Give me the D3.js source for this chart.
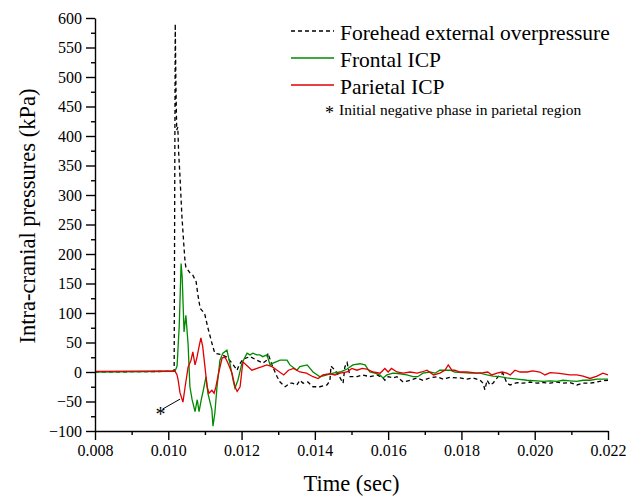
<!DOCTYPE html>
<html>
<head>
<meta charset="utf-8">
<script src="https://cdn.jsdelivr.net/npm/d3@7"></script>
<style>
  body { margin: 0; background: #fff; }
  text { font-family: "Liberation Serif", "DejaVu Serif", serif; fill: #000; }
</style>
</head>
<body>
<svg width="641" height="497"></svg>
<script>
var overTime = [0.0080, 0.0100, 0.01016, 0.01019, 0.01021, 0.01023, 0.01026, 0.01028, 0.01032, 0.01037, 0.01042, 0.01046, 0.01048, 0.01059, 0.01067, 0.01076, 0.01081, 0.01087, 0.01095, 0.01100, 0.01108, 0.01122, 0.01127, 0.01147, 0.01160, 0.01174, 0.01188, 0.01193, 0.01204, 0.01223, 0.01242, 0.01258, 0.01269, 0.01272, 0.01283, 0.01297, 0.01305, 0.01319, 0.01332, 0.01338, 0.01351, 0.01359, 0.01368, 0.01381, 0.01395, 0.01414, 0.01433, 0.01441, 0.01444, 0.01455, 0.01469, 0.01477, 0.01482, 0.01488, 0.01496, 0.01515, 0.01531, 0.01550, 0.01570, 0.01586, 0.01591, 0.01600, 0.01613, 0.01624, 0.01641, 0.01660, 0.01679, 0.01695, 0.01714, 0.01733, 0.01750, 0.01769, 0.01788, 0.01796, 0.01815, 0.01832, 0.01851, 0.01859, 0.01864, 0.01870, 0.01878, 0.01886, 0.01900, 0.01913, 0.01924, 0.01933, 0.01952, 0.01968, 0.01987, 0.02006, 0.02023, 0.02042, 0.02061, 0.02077, 0.02096, 0.02115, 0.02132, 0.02151, 0.02170, 0.02186, 0.02200];
var overKpa = [0, 1, 2, 590, 480, 410, 415, 376, 330, 266, 219, 185, 178, 168, 164, 153, 130, 108, 102, 97, 75, 42, 32, 29, 25, 15, 3, 12, 22, 26, 20, 15, 20, 32, 12, -8, -17, -25, -19, -19, -22, -14, -19, -17, -25, -25, -22, -15, 10, 3, -10, -19, 9, 16, -8, -8, -5, -8, -5, -10, -14, -8, -10, -8, -17, -14, -10, -14, -10, -8, -12, -9, -10, -10, -12, -10, -14, -19, -30, -14, -22, -19, -8, -2, -19, -22, -18, -19, -17, -19, -18, -19, -17, -19, -18, -22, -19, -19, -17, -15, -14];

var frontalTime = [0.0080, 0.01018, 0.01024, 0.01030, 0.01035, 0.01038, 0.01043, 0.01048, 0.01054, 0.01059, 0.01065, 0.01073, 0.01079, 0.01084, 0.01090, 0.01095, 0.01103, 0.01108, 0.01119, 0.01122, 0.01127, 0.01133, 0.01141, 0.01149, 0.01160, 0.01168, 0.01177, 0.01182, 0.01190, 0.01201, 0.01215, 0.01223, 0.01231, 0.01242, 0.01250, 0.01258, 0.01269, 0.01278, 0.01286, 0.01305, 0.01324, 0.01332, 0.01351, 0.01359, 0.01379, 0.01395, 0.01414, 0.01433, 0.01450, 0.01469, 0.01488, 0.01504, 0.01523, 0.01537, 0.01550, 0.01564, 0.01578, 0.01586, 0.01597, 0.01613, 0.01632, 0.01651, 0.01668, 0.01681, 0.01695, 0.01714, 0.01728, 0.01741, 0.01769, 0.01782, 0.01804, 0.01823, 0.01851, 0.01870, 0.01886, 0.01905, 0.01924, 0.01952, 0.01979, 0.02006, 0.02023, 0.02042, 0.02061, 0.02077, 0.02096, 0.02115, 0.02132, 0.02151, 0.02170, 0.02200];
var frontalKpa = [0, 1, 10, 80, 184, 160, 68, 96, 48, -25, -47, -67, -47, -67, -47, -33, -8, -36, -64, -92, -70, -25, 20, 32, 37, 15, -14, -27, -14, 15, 32, 29, 32, 29, 29, 26, 29, 12, 15, 20, 20, 12, 3, 9, 12, 0, -8, -5, -2, 0, 5, 12, 14, 12, 0, -2, -5, -10, -5, -2, -3, -5, -8, -8, -2, 0, -2, 3, 3, 0, -1, -2, -2, -5, -7, -8, -10, -12, -14, -15, -16, -15, -16, -14, -15, -16, -14, -14, -12, -12];

var parietalTime = [0.0080, 0.01018, 0.01024, 0.01027, 0.01032, 0.01040, 0.01046, 0.01054, 0.01062, 0.01067, 0.01073, 0.01078, 0.01084, 0.01089, 0.01094, 0.01100, 0.01106, 0.01111, 0.01119, 0.01125, 0.01130, 0.01138, 0.01147, 0.01155, 0.01163, 0.01174, 0.01182, 0.01188, 0.01196, 0.01201, 0.01204, 0.01218, 0.01228, 0.01242, 0.01256, 0.01269, 0.01283, 0.01297, 0.01315, 0.01328, 0.01342, 0.01359, 0.01377, 0.01395, 0.01409, 0.01422, 0.01441, 0.01455, 0.01469, 0.01488, 0.01501, 0.01515, 0.01529, 0.01542, 0.01559, 0.01578, 0.01591, 0.01600, 0.01609, 0.01624, 0.01641, 0.01660, 0.01679, 0.01692, 0.01706, 0.01724, 0.01741, 0.01755, 0.01764, 0.01774, 0.01782, 0.01796, 0.01815, 0.01832, 0.01842, 0.01859, 0.01872, 0.01883, 0.01897, 0.01911, 0.01924, 0.01933, 0.01946, 0.01960, 0.01979, 0.01995, 0.02014, 0.02028, 0.02042, 0.02061, 0.02077, 0.02096, 0.02115, 0.02132, 0.02151, 0.02170, 0.02186, 0.02200];
var parietalKpa = [1, 2, -5, -14, -35, -51, -25, 8, 20, 34, 12, 24, 43, 58, 43, 9, -25, -36, -31, -36, -25, 0, 24, 25, 15, -2, -25, -33, -25, 3, 17, 9, 3, 6, 9, 12, 9, 3, -5, 3, 6, 0, -2, -8, -11, -5, -3, -5, -2, 0, 6, 3, 6, 5, 0, -2, 6, 0, 6, 0, -2, 0, -2, 0, 3, -5, -2, 3, 12, 3, 3, 0, 0, -1, -2, -1, 0, -5, -2, 0, -2, -5, 3, 0, 0, 2, 0, -5, -1, -2, -3, -5, -5, -7, -11, -7, -2, -5];

var xTicks = [0.008, 0.010, 0.012, 0.014, 0.016, 0.018, 0.020, 0.022];
var yTicks = [-100, -50, 0, 50, 100, 150, 200, 250, 300, 350, 400, 450, 500, 550, 600];
var legendNames = ['Forehead external overpressure', 'Frontal ICP', 'Parietal ICP'];
var noteText = 'Initial negative phase in parietal region';
var noteArrow = [[0.00984, -63], [0.01032, -46]];

var serif = '"Liberation Serif", "DejaVu Serif", serif';
var svg = d3.select('svg');
var x = d3.scaleLinear().domain([0.008, 0.022]).range([95, 608]);
var y = d3.scaleLinear().domain([-100, 600]).range([431, 18]);

function pairs(ts, vs) {
  return ts.map(function (t, i) { return [t, vs[i]]; });
}
var line = d3.line().x(function (d) { return x(d[0]); }).y(function (d) { return y(d[1]); });

var series = [
  { data: pairs(overTime, overKpa), color: '#000', dash: '4,3' },
  { data: pairs(frontalTime, frontalKpa), color: '#008a00', dash: null },
  { data: pairs(parietalTime, parietalKpa), color: '#e00000', dash: null }
];

series.forEach(function (s) {
  svg.append('path')
    .attr('d', line(s.data))
    .attr('fill', 'none')
    .attr('stroke', s.color)
    .attr('stroke-width', 1.3)
    .attr('stroke-dasharray', s.dash);
});

// minor ticks first, then major axes on top
var xMinor = d3.range(0.009, 0.022, 0.002);
var yMinor = d3.range(-75, 600, 50);
svg.append('g')
  .attr('transform', 'translate(0,431)')
  .call(d3.axisBottom(x).tickValues(xMinor).tickSize(4).tickFormat(''))
  .call(function (g) { g.select('.domain').remove(); });
svg.append('g')
  .attr('transform', 'translate(95,0)')
  .call(d3.axisLeft(y).tickValues(yMinor).tickSize(4).tickFormat(''))
  .call(function (g) { g.select('.domain').remove(); });

svg.append('g')
  .attr('transform', 'translate(0,431)')
  .call(d3.axisBottom(x).tickValues(xTicks).tickSize(9).tickSizeOuter(0).tickPadding(5).tickFormat(d3.format('.3f')))
  .attr('font-family', serif)
  .attr('font-size', 16);
svg.append('g')
  .attr('transform', 'translate(95,0)')
  .call(d3.axisLeft(y).tickValues(yTicks).tickSize(9).tickSizeOuter(0).tickPadding(4))
  .attr('font-family', serif)
  .attr('font-size', 16);

svg.selectAll('.tick line, .domain').attr('stroke', '#000').attr('stroke-width', 1.4);

svg.append('text')
  .attr('x', 351.5)
  .attr('y', 491)
  .attr('text-anchor', 'middle')
  .attr('font-size', 22.5)
  .text('Time (sec)');

svg.append('text')
  .attr('transform', 'translate(35,216) rotate(-90)')
  .attr('text-anchor', 'middle')
  .attr('font-size', 22.5)
  .text('Intra-cranial pressures (kPa)');

// legend
var legendY = [31, 58, 85];
legendNames.forEach(function (name, i) {
  svg.append('line')
    .attr('x1', 291).attr('x2', 334)
    .attr('y1', legendY[i]).attr('y2', legendY[i])
    .attr('stroke', series[i].color)
    .attr('stroke-width', 1.3)
    .attr('stroke-dasharray', series[i].dash);
  svg.append('text')
    .attr('x', 340)
    .attr('y', legendY[i] + 9)
    .attr('font-size', 21.5)
    .text(name);
});
svg.append('text')
  .attr('x', 325)
  .attr('y', 119)
  .attr('font-size', 18)
  .text('*');
svg.append('text')
  .attr('x', 339)
  .attr('y', 115)
  .attr('font-size', 15.5)
  .text(noteText);

// asterisk pointer at the parietal dip
svg.append('path')
  .attr('d', line(noteArrow))
  .attr('stroke', '#000')
  .attr('stroke-width', 1);
svg.append('text')
  .attr('x', x(noteArrow[0][0]) - 2)
  .attr('y', y(noteArrow[0][1]) + 12)
  .attr('text-anchor', 'middle')
  .attr('font-size', 20)
  .text('*');
</script>
</body>
</html>
